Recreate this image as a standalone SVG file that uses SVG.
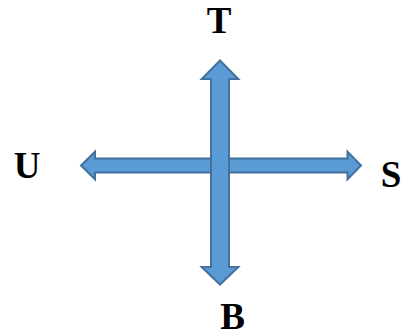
<svg xmlns="http://www.w3.org/2000/svg" width="403" height="335" viewBox="0 0 403 335">
<style>
.arr{fill:#5B9BD5;stroke:#41719C;stroke-width:2;stroke-linejoin:miter}
.lbl{font-family:"Liberation Serif","Times New Roman",serif;font-weight:bold;font-size:37px;fill:#000;text-anchor:middle}
</style>
<rect width="403" height="335" fill="#fff"/>
<g id="connectors">
<path id="horizontal" class="arr" d="M81,165.5 L95,151.7 L95,158.5 L347.5,158.5 L347.5,151.7 L361,165.5 L347.5,179.3 L347.5,172.5 L95,172.5 L95,179.3 Z"/>
<path id="vertical" class="arr" d="M220,60.5 L238.3,79 L229,79 L229,267 L238.3,267 L220,284.5 L201.7,267 L211,267 L211,79 L201.7,79 Z"/>
</g>
<g id="T"><text class="lbl" x="219" y="33">T</text></g>
<g id="U"><text class="lbl" x="27" y="178">U</text></g>
<g id="S"><text class="lbl" x="391" y="187">S</text></g>
<g id="B"><text class="lbl" x="232.5" y="329">B</text></g>
</svg>
